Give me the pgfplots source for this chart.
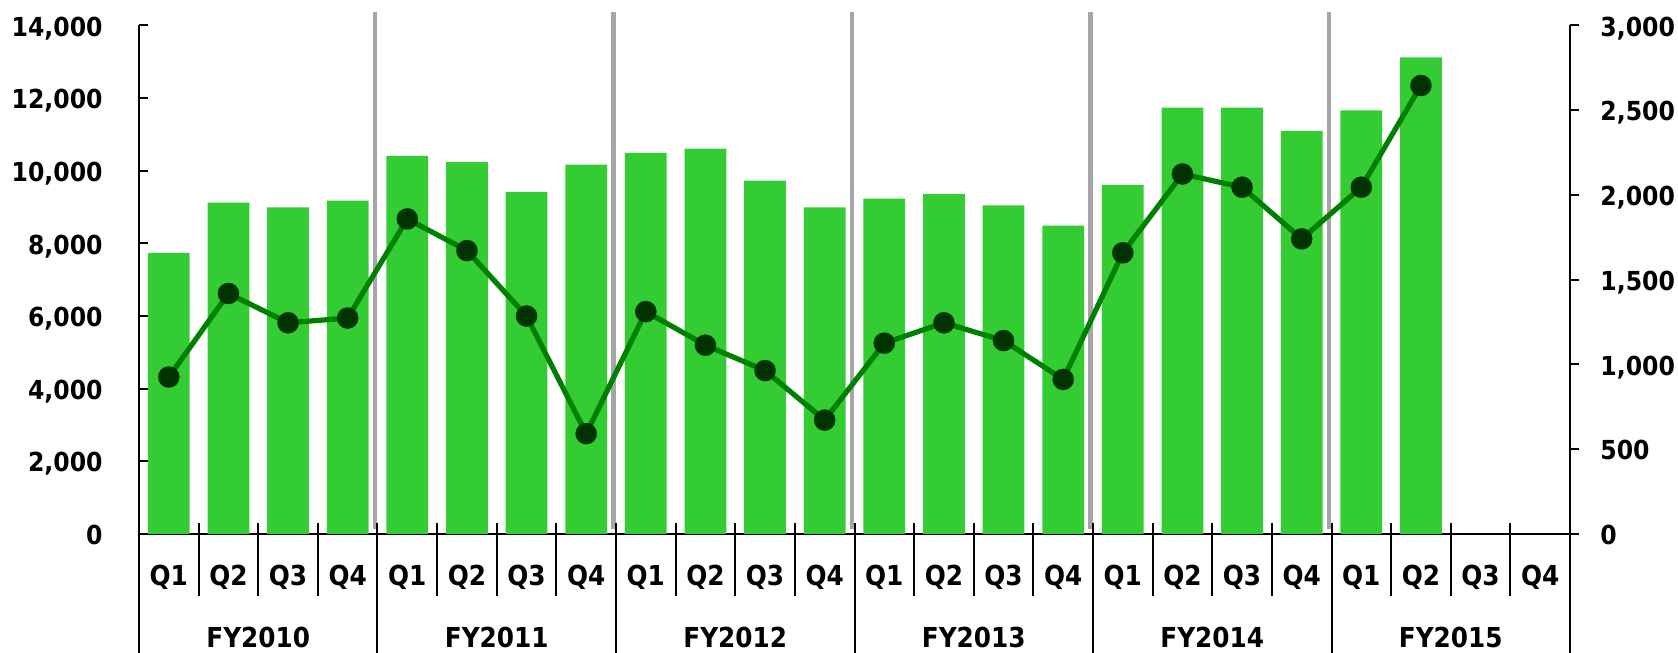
\documentclass[border=0pt]{standalone}
\usepackage{pgfplots}
\usepackage{pgfplotstable}
\pgfplotsset{compat=1.18}
\usepackage{fontspec}
\setmainfont{DejaVu Sans}
\newfontfamily\cond{DejaVu Sans Condensed}

\definecolor{barg}{HTML}{33CC33}
\definecolor{lineg}{HTML}{008000}
\definecolor{markg}{HTML}{003300}
\definecolor{sepgray}{HTML}{A6A6A6}

% quarterly figures: revenue (left axis, bars) and income (right axis, line)
\pgfplotstableread{
idx rev inc
0 7740 926
1 9120 1419
2 8990 1246
3 9180 1274
4 10410 1859
5 10240 1672
6 9420 1286
7 10170 592
8 10490 1312
9 10610 1114
10 9730 964
11 8990 672
12 9235 1126
13 9360 1246
14 9050 1141
15 8490 912
16 9610 1659
17 11740 2124
18 11740 2046
19 11100 1741
20 11660 2046
21 13120 2646
}\quarterly

\newcommand\ticklabfont{\cond\bfseries\fontsize{13.1}{15}\selectfont}
\newcommand\catlabfont{\cond\bfseries\fontsize{13.75}{15}\selectfont}

\pgfplotsset{
  common/.style={
    scale only axis, width=715.5pt, height=254.25pt,
    xmin=-0.5, xmax=23.5, ymin=0,
    xtick=\empty,
    scaled y ticks=false,
    major tick length=4.5pt,
    tick style={black, line width=1pt},
    axis line style={black, line width=1pt, -},
    clip=false,
  },
}

\begin{document}
\begin{tikzpicture}
\path[use as bounding box] (-69.5pt,-59.5pt) rectangle (769.5pt,267pt);

\begin{axis}[
  common,
  ymax=14000,
  axis y line*=left, axis x line*=bottom,
  ytick={0,2000,...,14000},
  yticklabels={0,{2,000},{4,000},{6,000},{8,000},{10,000},{12,000},{14,000}},
  ytick align=inside,
  yticklabel style={font=\ticklabfont, anchor=base east, inner sep=0pt, xshift=-18pt, yshift=-5.3pt},
]
\addplot[ybar, bar width=0.7, fill=barg, draw=none] table[x=idx, y=rev]{\quarterly};

% fiscal-year dividers
\pgfplotsinvokeforeach{3.46,7.46,11.46,15.46,19.46}{
  \draw[sepgray, line width=2.2pt] (axis cs:#1,150) -- (axis cs:#1,14380);
}
% quarter separators across the axis
\pgfplotsinvokeforeach{0.5,1.5,2.5,4.5,5.5,6.5,8.5,9.5,10.5,12.5,13.5,14.5,16.5,17.5,18.5,20.5,21.5,22.5}{
  \draw[black, line width=1pt] ([yshift=5.5pt]axis cs:#1,0) -- ([yshift=-31pt]axis cs:#1,0);
}
% year separators down to the bottom edge
\pgfplotsinvokeforeach{3.5,7.5,11.5,15.5,19.5}{
  \draw[black, line width=1pt] ([yshift=5.5pt]axis cs:#1,0) -- ([yshift=-62pt]axis cs:#1,0);
}
\draw[black, line width=1pt] (axis cs:-0.5,0) -- ([yshift=-62pt]axis cs:-0.5,0);
\draw[black, line width=1pt] (axis cs:23.5,0) -- ([yshift=-62pt]axis cs:23.5,0);

% quarter and year labels
\pgfplotsinvokeforeach{0,4,8,12,16,20}{
  \node[font=\catlabfont, anchor=base, inner sep=0pt, yshift=-26pt] at (axis cs:#1,0) {Q1};
  \node[font=\catlabfont, anchor=base, inner sep=0pt, yshift=-26pt] at (axis cs:#1+1,0) {Q2};
  \node[font=\catlabfont, anchor=base, inner sep=0pt, yshift=-26pt] at (axis cs:#1+2,0) {Q3};
  \node[font=\catlabfont, anchor=base, inner sep=0pt, yshift=-26pt] at (axis cs:#1+3,0) {Q4};
}
\node[font=\catlabfont, anchor=base, inner sep=0pt, yshift=-57pt] at (axis cs:1.5,0) {FY2010};
\node[font=\catlabfont, anchor=base, inner sep=0pt, yshift=-57pt] at (axis cs:5.5,0) {FY2011};
\node[font=\catlabfont, anchor=base, inner sep=0pt, yshift=-57pt] at (axis cs:9.5,0) {FY2012};
\node[font=\catlabfont, anchor=base, inner sep=0pt, yshift=-57pt] at (axis cs:13.5,0) {FY2013};
\node[font=\catlabfont, anchor=base, inner sep=0pt, yshift=-57pt] at (axis cs:17.5,0) {FY2014};
\node[font=\catlabfont, anchor=base, inner sep=0pt, yshift=-57pt] at (axis cs:21.5,0) {FY2015};
\end{axis}

\begin{axis}[
  common,
  ymax=3000,
  axis y line*=right, axis x line=none,
  ytick={0,500,...,3000},
  yticklabels={0,500,{1,000},{1,500},{2,000},{2,500},{3,000}},
  ytick align=outside,
  yticklabel style={font=\ticklabfont, anchor=base west, inner sep=0pt, xshift=10.5pt, yshift=-5.3pt},
]
\addplot[lineg, line width=2.6pt, line join=round, mark=*, mark size=5.3pt,
  mark options={fill=markg, draw=markg, line width=0.1pt}] table[x=idx, y=inc]{\quarterly};
\end{axis}
\end{tikzpicture}
\end{document}
